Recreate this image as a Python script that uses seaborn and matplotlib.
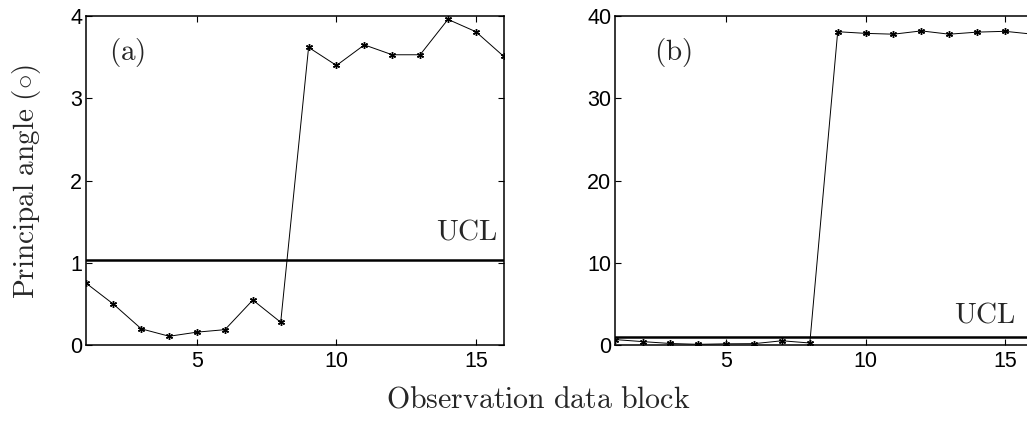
import numpy as np
import pandas as pd
import matplotlib
matplotlib.use('Agg')
import matplotlib.pyplot as plt
import seaborn as sns

# observation blocks and principal angles
blocks = list(range(1, 17))
angle_a = [0.76, 0.50, 0.20, 0.11, 0.16, 0.19, 0.55, 0.28,
           3.62, 3.40, 3.65, 3.53, 3.53, 3.96, 3.81, 3.51]
angle_b = [0.70, 0.45, 0.22, 0.12, 0.18, 0.20, 0.55, 0.28,
           38.1, 37.9, 37.8, 38.2, 37.8, 38.05, 38.15, 37.8]
ucl_a = 1.04
ucl_b = 1.0

sns.set_style('ticks')
plt.rcParams['font.family'] = ['Liberation Sans', 'DejaVu Sans']
plt.rcParams['mathtext.fontset'] = 'cm'
plt.rcParams['xtick.direction'] = 'in'
plt.rcParams['ytick.direction'] = 'in'
plt.rcParams['xtick.top'] = True
plt.rcParams['ytick.right'] = True


def cm(s):
    return r'$\mathrm{' + s.replace(' ', r'\ ') + '}$'


fig = plt.figure(figsize=(10.27, 4.21), dpi=100)
ax_a = fig.add_axes([0.0833, 0.1798, 0.4072, 0.782])
ax_b = fig.add_axes([0.5985, 0.1798, 0.4072, 0.782])


def panel(ax, vals, ucl, ymax, label, lab_xy, ucl_xy):
    df = pd.DataFrame({'block': blocks, 'angle': vals})
    sns.lineplot(data=df, x='block', y='angle', ax=ax, color='k',
                 linewidth=0.7, marker=(6, 2, 0), markersize=5,
                 markeredgewidth=1.0, markeredgecolor='k')
    ax.axhline(ucl, color='k', linewidth=1.8)
    ax.set_xlim(1, 16)
    ax.set_ylim(0, ymax)
    ax.set_xticks([5, 10, 15])
    ax.set_yticks(np.linspace(0, ymax, 5))
    ax.yaxis.set_major_formatter(matplotlib.ticker.FormatStrFormatter('%g'))
    ax.tick_params(labelsize=15.5, length=4, width=0.8, colors='k')
    ax.tick_params(axis='x', pad=4)
    ax.tick_params(axis='y', pad=2.5)
    for sp in ax.spines.values():
        sp.set_linewidth(1.1)
        sp.set_color('k')
    ax.set_xlabel('')
    ax.set_ylabel('')
    ax.text(lab_xy[0], lab_xy[1], cm(label), fontsize=21, va='center', ha='left')
    ax.text(ucl_xy[0], ucl_xy[1], cm('UCL'), fontsize=21, va='baseline', ha='right')


panel(ax_a, angle_a, ucl_a, 4, '(a)', (1.85, 3.56), (15.8, 1.28))
panel(ax_b, angle_b, ucl_b, 40, '(b)', (2.42, 35.6), (15.4, 2.8))

fig.text(0.026, 0.57, cm('Principal angle (\\circ)'), rotation=90,
         fontsize=21, va='center', ha='center')
fig.text(0.524, 0.05, cm('Observation data block'), fontsize=21.5,
         va='center', ha='center')

fig.savefig('out.png', dpi=100)
